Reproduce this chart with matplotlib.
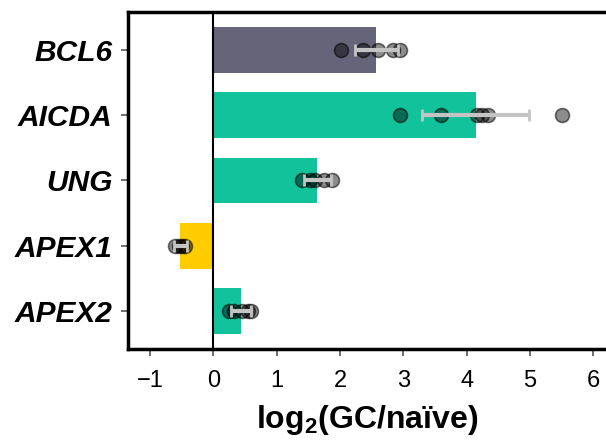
import matplotlib
matplotlib.use("Agg")
import matplotlib.pyplot as plt
import numpy as np

genes = ["BCL6", "AICDA", "UNG", "APEX1", "APEX2"]
means = [2.57, 4.14, 1.64, -0.52, 0.44]
errs = [0.34, 0.85, 0.21, 0.10, 0.16]
points = [
    [2.01, 2.36, 2.60, 2.84, 2.94],
    [2.95, 3.60, 4.16, 4.24, 4.34, 5.51],
    [1.40, 1.52, 1.60, 1.75, 1.88],
    [-0.61, -0.55, -0.49, -0.45],
    [0.24, 0.32, 0.45, 0.55, 0.59],
]
colors = ["#656479", "#12C29B", "#12C29B", "#FFCC00", "#12C29B"]
xticks = [-1, 0, 1, 2, 3, 4, 5, 6]

plt.rcParams['font.family'] = ['Liberation Sans', 'DejaVu Sans']
plt.rcParams['mathtext.fontset'] = 'custom'
plt.rcParams['mathtext.bf'] = 'Liberation Sans:bold'

fig = plt.figure(figsize=(6.06, 4.40), dpi=100)
ax = fig.add_axes([0.211, 0.207, 0.789, 0.766])

ypos = np.arange(len(genes))
ax.barh(ypos, means, height=0.7, color=colors, zorder=1)
ax.axvline(0, color='black', lw=1.5, zorder=2)

for i, pts in enumerate(points):
    ax.plot(pts, [i] * len(pts), 'o', ms=10, mfc=(0, 0, 0, 0.45),
            mec=(0, 0, 0, 0.55), mew=1.2, ls='none', zorder=3)

ax.errorbar(means, ypos, xerr=errs, fmt='none', ecolor='#c4c4c4',
            elinewidth=3, capsize=4, capthick=2, zorder=4)

ax.set_xlim(-1.35, 6.2)
ax.set_ylim(len(genes) - 0.42, -0.58)
ax.set_yticks(ypos)
ax.set_yticklabels(genes, fontsize=21.5, fontweight='bold', fontstyle='italic')
ax.set_xticks(xticks)
ax.set_xticklabels([f"{t}".replace('-', '\u2212') for t in xticks], fontsize=17)
ax.set_xlabel(r"log$_\mathbf{2}$(GC/naïve)", fontsize=23, fontweight='bold', labelpad=8)

for s in ['left', 'bottom', 'top']:
    ax.spines[s].set_linewidth(2.5)
    ax.spines[s].set_color('black')
ax.spines['right'].set_visible(False)
ax.tick_params(axis='both', length=5, width=1.2, color='#555555', pad=6)
ax.tick_params(axis='x', pad=10)

fig.savefig("out.png", dpi=100)
